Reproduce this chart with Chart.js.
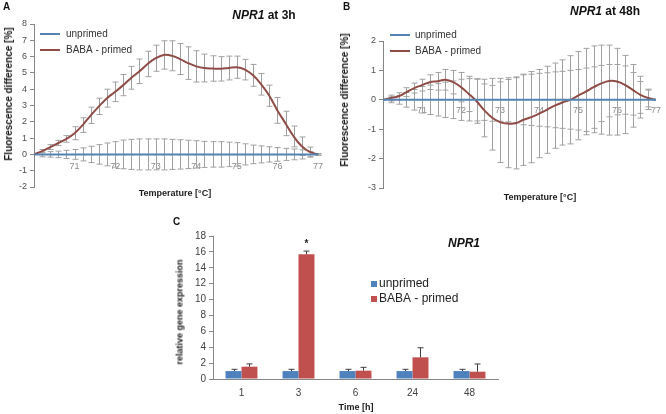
<!DOCTYPE html>
<html>
<head>
<meta charset="utf-8">
<script src="https://cdn.jsdelivr.net/npm/chart.js@4.4.1/dist/chart.umd.min.js"></script>
<style>
  body { margin: 0; background: #fff; }
  #fig { position: relative; width: 666px; height: 414px; overflow: hidden; font-family: "Liberation Sans", Arial, sans-serif; color: #1a1a1a; }
  .box { position: absolute; }
  .t { position: absolute; transform: translate(-50%, -50%); white-space: nowrap; line-height: 1; font-weight: bold; }
  .yt { position: absolute; transform: translate(-50%, -50%) rotate(-90deg); white-space: nowrap; line-height: 1; font-weight: bold; font-size: 10px; color: #1a1a1a; }
  .ttl { font-size: 12px; color: #111; }
  .ax { font-size: 9px; color: #1a1a1a; }
  .letter { position: absolute; font-weight: bold; font-size: 10px; color: #111; line-height: 1; }
</style>
</head>
<body>
<div id="fig">
  <div class="box" style="left:0;top:0;width:333px;height:205px"><canvas id="chartA"></canvas></div>
  <div class="box" style="left:333px;top:0;width:333px;height:205px"><canvas id="chartB"></canvas></div>
  <div class="box" style="left:140px;top:205px;width:380px;height:209px"><canvas id="chartC"></canvas></div>

  <div class="letter" style="left:3px;top:2px">A</div>
  <div class="letter" style="left:343px;top:2px">B</div>
  <div class="letter" style="left:173px;top:217px">C</div>

  <div class="t ttl" style="left:264px;top:15px"><i>NPR1</i> at 3h</div>
  <div class="t ttl" style="left:605px;top:11px"><i>NPR1</i> at 48h</div>
  <div class="t ttl" style="left:464px;top:243px"><i>NPR1</i></div>

  <div class="yt" style="left:9px;top:94px">Fluorescence difference [%]</div>
  <div class="yt" style="left:345px;top:100px">Fluorescence difference [%]</div>
  <div class="yt" style="left:180px;top:312px;font-size:9px">relative gene expression</div>

  <div class="t ax" style="left:175px;top:193px">Temperature [°C]</div>
  <div class="t ax" style="left:540px;top:197px">Temperature [°C]</div>
  <div class="t ax" style="left:356px;top:407px">Time [h]</div>
</div>

<script>
// melt curve temperatures (°C)
const temps = [70.0, 70.2, 70.4, 70.6, 70.8, 71.0, 71.2, 71.4, 71.6, 71.8,
               72.0, 72.2, 72.4, 72.6, 72.8, 73.0, 73.2, 73.4, 73.6, 73.8,
               74.0, 74.2, 74.4, 74.6, 74.8, 75.0, 75.2, 75.4, 75.6, 75.8,
               76.0, 76.2, 76.4, 76.6, 76.8, 77.0];

// panel A - NPR1 at 3h
const unprimed3h = [0, 0, 0, 0, 0, 0, 0, 0, 0, 0, 0, 0, 0, 0, 0, 0, 0, 0,
                    0, 0, 0, 0, 0, 0, 0, 0, 0, 0, 0, 0, 0, 0, 0, 0, 0, 0];
const unprimed3hErr = [0, 0.15, 0.17, 0.2, 0.25, 0.3, 0.4, 0.5, 0.6, 0.7, 0.78, 0.88, 0.92, 0.95, 0.95, 0.95, 0.95, 0.92,
                       0.9, 0.87, 0.84, 0.8, 0.78, 0.78, 0.75, 0.72, 0.65, 0.57, 0.52, 0.47, 0.42, 0.37, 0.33, 0.28, 0.16, 0.05];
const baba3h = [0, 0.2, 0.45, 0.7, 0.95, 1.3, 1.8, 2.4, 2.95, 3.45, 3.84, 4.25, 4.7, 5.1, 5.55, 5.9, 6.1, 6.05,
                5.85, 5.6, 5.4, 5.3, 5.27, 5.25, 5.3, 5.35, 5.2, 4.85, 4.3, 3.6, 2.7, 1.9, 1.1, 0.5, 0.15, 0];
const baba3hErr = [0, 0.1, 0.15, 0.16, 0.2, 0.4, 0.45, 0.5, 0.5, 0.55, 0.6, 0.65, 0.7, 0.75, 0.78, 0.8, 0.87, 0.92,
                   0.95, 1.0, 0.96, 0.85, 0.78, 0.75, 0.73, 0.68, 0.63, 0.67, 0.66, 0.65, 0.79, 0.75, 0.64, 0.57, 0.3, 0.05];

// panel B - NPR1 at 48h
const unprimed48h = [0, 0, 0, 0, 0, 0, 0, 0, 0, 0, 0, 0, 0, 0, 0, 0, 0, 0,
                     0, 0, 0, 0, 0, 0, 0, 0, 0, 0, 0, 0, 0, 0, 0, 0, 0, 0];
const unprimed48hErr = [0, 0.1, 0.15, 0.25, 0.35, 0.45, 0.5, 0.55, 0.6, 0.64, 0.7, 0.72, 0.72, 0.7, 0.73, 0.73, 0.75, 0.78,
                        0.85, 0.87, 0.9, 0.92, 0.95, 0.97, 1.0, 1.03, 1.08, 1.12, 1.17, 1.2, 1.2, 1.15, 0.93, 0.62, 0.33, 0];
const baba48h = [0, 0.06, 0.12, 0.26, 0.4, 0.5, 0.6, 0.63, 0.68, 0.6, 0.43, 0.2, -0.05, -0.36, -0.61, -0.76, -0.81, -0.8,
                 -0.68, -0.59, -0.47, -0.34, -0.2, -0.09, 0.0, 0.14, 0.28, 0.43, 0.56, 0.64, 0.62, 0.51, 0.34, 0.17, 0.06, 0];
const baba48hErr = [0, 0.1, 0.12, 0.15, 0.17, 0.2, 0.25, 0.3, 0.35, 0.4, 0.5, 0.6, 0.75, 0.9, 1.1, 1.37, 1.5, 1.55,
                    1.55, 1.55, 1.5, 1.48, 1.45, 1.45, 1.5, 1.5, 1.47, 1.4, 1.3, 1.22, 1.13, 1.0, 0.86, 0.63, 0.3, 0];
const tempTicks = [71, 72, 73, 74, 75, 76, 77];

// panel C - relative expression over time
const timeLabels = ['1', '3', '6', '24', '48'];
const unprimedExpr = [1, 1, 1, 1, 1];
const unprimedExprErr = [0.22, 0.22, 0.22, 0.22, 0.22];
const babaExpr = [1.55, 15.7, 1.05, 2.73, 0.92];
const babaExprErr = [0.35, 0.4, 0.42, 1.2, 0.97];

const FONT = '"Liberation Sans", Arial, sans-serif';
Chart.defaults.font.family = FONT;
Chart.defaults.animation = false;

const BLUE_LINE = '#5384b3';
const BROWN_LINE = '#8f4c46';
const BLUE_BAR = '#4f81bd';
const RED_BAR = '#c0504d';
const AXIS = '#868686';

function drawErrorBars(chart, opts) {
  const ctx = chart.ctx;
  const yScale = chart.scales.y;
  ctx.save();
  ctx.strokeStyle = opts.color;
  ctx.lineWidth = 1;
  chart.data.datasets.forEach((ds, i) => {
    if (!ds.errors) return;
    chart.getDatasetMeta(i).data.forEach((el, j) => {
      const err = ds.errors[j];
      if (!err) return;
      const raw = ds.data[j];
      const v = typeof raw === 'object' ? raw.y : raw;
      const x = Math.round(el.x) + 0.5;
      const top = yScale.getPixelForValue(v + err);
      const bottom = yScale.getPixelForValue(opts.upOnly ? v : v - err);
      ctx.beginPath();
      ctx.moveTo(x, top);
      ctx.lineTo(x, bottom);
      ctx.moveTo(x - opts.cap, top);
      ctx.lineTo(x + opts.cap, top);
      if (!opts.upOnly) {
        ctx.moveTo(x - opts.cap, bottom);
        ctx.lineTo(x + opts.cap, bottom);
      }
      ctx.stroke();
    });
  });
  ctx.restore();
}

const errorBars = {
  id: 'errorBars',
  beforeDatasetsDraw(chart, args, opts) {
    if (opts.layer === 'under') drawErrorBars(chart, opts);
  },
  afterDatasetsDraw(chart, args, opts) {
    if (opts.layer !== 'under') drawErrorBars(chart, opts);
  }
};

// legend drawn inside the plot area, Excel style
const insideLegend = {
  id: 'insideLegend',
  afterDraw(chart, args, o) {
    const ctx = chart.ctx;
    ctx.save();
    ctx.font = o.font;
    ctx.textBaseline = 'middle';
    chart.data.datasets.forEach((ds, i) => {
      const y = o.y + i * o.gap;
      if (o.marker === 'line') {
        ctx.strokeStyle = ds.borderColor;
        ctx.lineWidth = 2;
        ctx.beginPath();
        ctx.moveTo(o.x, y);
        ctx.lineTo(o.x + o.size, y);
        ctx.stroke();
      } else {
        ctx.fillStyle = ds.backgroundColor;
        ctx.fillRect(o.x, y - o.size / 2, o.size, o.size);
      }
      ctx.fillStyle = o.color;
      ctx.fillText(ds.label, o.textX, y);
    });
    ctx.restore();
  }
};

// significance asterisk over one bar
const starMark = {
  id: 'starMark',
  afterDatasetsDraw(chart, args, o) {
    const ds = chart.data.datasets[o.datasetIndex];
    const el = chart.getDatasetMeta(o.datasetIndex).data[o.index];
    const top = chart.scales.y.getPixelForValue(ds.data[o.index] + ds.errors[o.index]);
    const ctx = chart.ctx;
    ctx.save();
    ctx.font = 'bold 10px ' + FONT;
    ctx.fillStyle = '#222';
    ctx.textAlign = 'center';
    ctx.textBaseline = 'middle';
    ctx.fillText(o.text, el.x, top - o.offset);
    ctx.restore();
  }
};

function meltChart(id, unprimed, unprimedErr, baba, babaErr, yMin, yMax, pad, yWidth, tickPad, legend) {
  return new Chart(document.getElementById(id), {
    type: 'line',
    data: {
      datasets: [
        {
          label: 'unprimed',
          data: temps.map((t, i) => ({ x: t, y: unprimed[i] })),
          errors: unprimedErr,
          borderColor: BLUE_LINE,
          borderWidth: 2,
          pointRadius: 0,
          tension: 0.4,
          fill: false
        },
        {
          label: 'BABA - primed',
          data: temps.map((t, i) => ({ x: t, y: baba[i] })),
          errors: babaErr,
          borderColor: BROWN_LINE,
          borderWidth: 2,
          pointRadius: 0,
          tension: 0.4,
          fill: false
        }
      ]
    },
    options: {
      responsive: true,
      maintainAspectRatio: false,
      layout: { padding: pad },
      plugins: {
        legend: { display: false },
        tooltip: { enabled: false },
        errorBars: { layer: 'under', color: '#a0a0a0', cap: 3 },
        insideLegend: legend
      },
      scales: {
        x: {
          type: 'linear',
          min: 70,
          max: 77,
          position: { y: 0 },
          afterFit: s => { s.height = 0; },
          afterBuildTicks: s => { s.ticks = tempTicks.map(v => ({ value: v })); },
          ticks: { font: { size: 9 }, color: '#8a8a8a', padding: tickPad, maxRotation: 0 },
          grid: { display: false, drawTicks: false },
          border: { display: false }
        },
        y: {
          min: yMin,
          max: yMax,
          afterFit: s => { s.width = yWidth; },
          ticks: { stepSize: 1, font: { size: 9 }, color: '#4d4d4d', padding: 3 },
          grid: { drawOnChartArea: false, tickLength: 4, color: AXIS },
          border: { color: AXIS }
        }
      }
    },
    plugins: [errorBars, insideLegend]
  });
}

meltChart('chartA', unprimed3h, unprimed3hErr, baba3h, baba3hErr, -2, 8,
  { left: 0, right: 15, top: 24, bottom: 18 }, 34, 7,
  { marker: 'line', x: 40, size: 20, textX: 66, y: 34, gap: 16, font: '10px ' + FONT, color: '#333' });

meltChart('chartB', unprimed48h, unprimed48hErr, baba48h, baba48hErr, -3, 2,
  { left: 0, right: 8, top: 41, bottom: 17 }, 50, 5,
  { marker: 'line', x: 57, size: 20, textX: 82, y: 35, gap: 16, font: '10px ' + FONT, color: '#333' });

new Chart(document.getElementById('chartC'), {
  type: 'bar',
  data: {
    labels: timeLabels,
    datasets: [
      {
        label: 'unprimed',
        data: unprimedExpr,
        errors: unprimedExprErr,
        backgroundColor: BLUE_BAR,
        categoryPercentage: 0.56,
        barPercentage: 1.0
      },
      {
        label: 'BABA - primed',
        data: babaExpr,
        errors: babaExprErr,
        backgroundColor: RED_BAR,
        categoryPercentage: 0.56,
        barPercentage: 1.0
      }
    ]
  },
  options: {
    responsive: true,
    maintainAspectRatio: false,
    layout: { padding: { left: 30, right: 22, top: 31, bottom: 0 } },
    plugins: {
      legend: { display: false },
      tooltip: { enabled: false },
      errorBars: { layer: 'over', upOnly: true, color: '#3d3d3d', cap: 3 },
      insideLegend: { marker: 'box', x: 231, size: 6, textX: 239, y: 79, gap: 15, font: '12px ' + FONT, color: '#222' },
      starMark: { datasetIndex: 1, index: 1, text: '*', offset: 7 }
    },
    scales: {
      x: {
        afterFit: s => { s.height = 35; },
        ticks: { font: { size: 10 }, color: '#404040', padding: 8 },
        grid: { display: false, drawTicks: false },
        border: { color: AXIS }
      },
      y: {
        min: 0,
        max: 18,
        afterFit: s => { s.width = 43; },
        ticks: { stepSize: 2, font: { size: 10 }, color: '#404040', padding: 3 },
        grid: { drawOnChartArea: false, tickLength: 4, color: AXIS },
        border: { color: AXIS }
      }
    }
  },
  plugins: [errorBars, insideLegend, starMark]
});
</script>
</body>
</html>
